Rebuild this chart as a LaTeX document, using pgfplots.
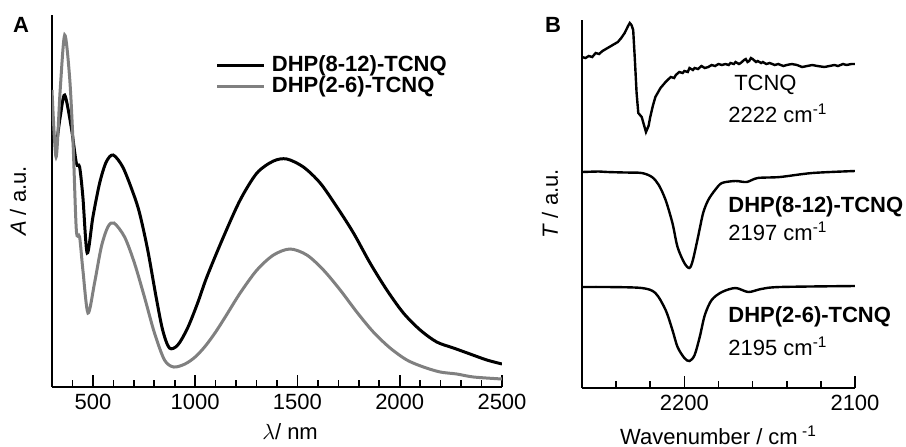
\documentclass[border=0pt]{standalone}
\usepackage{fontspec}
\setmainfont{Liberation Sans}
\usepackage{pgfplots}
\pgfplotsset{compat=1.18}
\definecolor{specgray}{RGB}{128,128,128}

\begin{document}
\begin{tikzpicture}[font=\fontsize{11}{13}\selectfont]
\path[use as bounding box] (0,0) rectangle (453pt,-223pt);

\pgfplotsset{
  every axis/.append style={
    scale only axis,
    axis lines=left,
    axis line style={-, line width=0.9pt},
    tick align=inside,
    major tick length=6pt,
    minor tick length=3.5pt,
    every tick/.style={line width=0.8pt, black},
    ytick=\empty,
    /pgf/number format/assume math mode=true,
    /pgf/number format/1000 sep={},
    clip mode=individual,
    tick label style={font=\fontsize{11}{13}\selectfont},
    label style={font=\fontsize{11}{13}\selectfont},
  }
}

% panel labels
\node[font=\bfseries\fontsize{11}{13}\selectfont] at (10.5pt,-12.5pt) {A};
\node[font=\bfseries\fontsize{11}{13}\selectfont] at (276.5pt,-12.5pt) {B};

% ---------------- A: absorption spectra ----------------
\begin{axis}[
  at={(26pt,-193.5pt)}, anchor=south west,
  width=225pt, height=186pt,
  xmin=300, xmax=2500, ymin=0, ymax=372,
  xtick={500,1000,1500,2000,2500},
  minor xtick={400,600,700,800,900,1100,1200,1300,1400,1600,1700,1800,1900,2100,2200,2300,2400},
  xlabel={$\lambda$/ nm},
  ylabel={\textit{A} / a.u.},
  xlabel style={at={(axis description cs:0.529,0)}, anchor=center, yshift=-22.5pt},
  ylabel style={at={(axis description cs:-0.0756,0.5)}, anchor=center},
  legend style={at={(axis description cs:0.35,0.905)}, anchor=north west,
    draw=none, fill=none, font=\bfseries\fontsize{11}{13}\selectfont,
    row sep=0pt, column sep=2.5pt, nodes={inner sep=0.5pt}},
  legend cell align=left,
  legend image code/.code={\draw[#1] (0pt,0pt) -- (23.5pt,0pt);},
]
\addplot[black, line width=1.5pt, smooth] coordinates {
  (300,260) (320,244) (340,270) (362,292) (394,260) (419,224) (435,220)
  (451,190) (472,134) (500,170) (533,204) (565,225) (599,232) (646,220)
  (695,195) (728,174) (768,137) (809,90) (841,57) (874,39) (915,42)
  (963,59) (1012,84) (1057,110) (1138,150) (1220,187) (1302,214)
  (1383,226) (1448,228) (1529,220) (1611,204) (1693,180) (1774,154)
  (1855,124) (1937,97) (2018,74) (2100,57) (2181,45) (2263,39)
  (2344,33) (2426,27) (2500,23)
};
\addlegendentry{DHP(8-12)-TCNQ}
\addplot[specgray, line width=1.5pt, smooth] coordinates {
  (300,297) (320,230) (340,297) (362,352) (386,310) (403,244) (419,157)
  (435,150) (451,117) (476,74) (508,104) (541,140) (573,160) (603,164)
  (655,150) (703,124) (752,90) (801,54) (850,27) (895,20) (950,23)
  (1000,30) (1050,41) (1100,55) (1150,71) (1220,94) (1302,117) (1383,132)
  (1464,138) (1546,132) (1627,117) (1709,97) (1790,75) (1871,55)
  (1953,39) (2035,27) (2116,20) (2198,15) (2279,13) (2361,10) (2500,8)
};
\addlegendentry{DHP(2-6)-TCNQ}
\end{axis}

% ---------------- B: IR spectra ----------------
\begin{axis}[
  at={(291pt,-194pt)}, anchor=south west,
  width=136.5pt, height=184pt,
  x dir=reverse,
  xmin=2100, xmax=2260, ymin=0, ymax=368,
  xtick={2200,2100},
  minor xtick={2240,2220,2180,2160,2140,2120},
  xlabel={Wavenumber / cm\textsuperscript{ -1}},
  ylabel={\textit{T} / a.u.},
  xlabel style={at={(axis description cs:0.5,0)}, anchor=center, yshift=-23.5pt},
  ylabel style={at={(axis description cs:-0.117,0.5)}, anchor=center},
]
% TCNQ
\addplot[black, line width=1.2pt] coordinates {
  (2260,331) (2258,330) (2256,332) (2254,331) (2252,335) (2250,334) (2248,337)
  (2245,340) (2242,343) (2239,346) (2237,350) (2235,355) (2233,362)
  (2232,365) (2231,363) (2230,358) (2229,328) (2228,295) (2227,275)
  (2225,271) (2223.5,262) (2222.5,256) (2221,262) (2220,271) (2218.5,282)
  (2217,291) (2214,300) (2211,306) (2208,311) (2206,310) (2205,313) (2203,316)
  (2201,315) (2200,317) (2198,316) (2197,320) (2195,318) (2194,320) (2192,319)
  (2190,322) (2188,320) (2186,321) (2184,323) (2182,322) (2180,324) (2178,323)
  (2176,324) (2174,323) (2173,325) (2171,324) (2170,326) (2168,324) (2167,325)
  (2165,328) (2164,329) (2163,326) (2162,327) (2161,330) (2160,329) (2158,326)
  (2157,327) (2155,325) (2154,326) (2152,324) (2150,325) (2147,323) (2145,324)
  (2142,322) (2140,323) (2137,324) (2134,323) (2131,321) (2128,322) (2125,323)
  (2122,322) (2118,321) (2115,322) (2112,323) (2110,322) (2107,324) (2105,323)
  (2102,324) (2100,324)
};
% DHP(8-12)-TCNQ
\addplot[black, line width=1.2pt, smooth] coordinates {
  (2260,216) (2250,216.5) (2245,216) (2235,215.5) (2225,215) (2219,211)
  (2215,203) (2211,188) (2207,165) (2204,141) (2200,125) (2197,120)
  (2195,128) (2192,151) (2189,175) (2186,188) (2182,198) (2178,205)
  (2170,207) (2163.5,206) (2157,210) (2144,211) (2125,215) (2100,217)
};
% DHP(2-6)-TCNQ
\addplot[black, line width=1.2pt, smooth] coordinates {
  (2260,101) (2245,101) (2225,100) (2217,95) (2211,78) (2207,58)
  (2204,41) (2200,30) (2197,27) (2194,33) (2191,51) (2188,73)
  (2184,88) (2178,96) (2170,100) (2162.5,96) (2155,99) (2144,101)
  (2100,102)
};
\node[anchor=west, inner sep=0pt] at (axis cs:2171,303) {TCNQ};
\node[anchor=west, inner sep=0pt] at (axis cs:2174.4,275) {2222 cm\textsuperscript{-1}};
\node[anchor=west, inner sep=0pt, font=\bfseries\fontsize{11}{13}\selectfont] at (axis cs:2174.4,181) {DHP(8-12)-TCNQ};
\node[anchor=west, inner sep=0pt] at (axis cs:2174.4,157) {2197 cm\textsuperscript{-1}};
\node[anchor=west, inner sep=0pt, font=\bfseries\fontsize{11}{13}\selectfont] at (axis cs:2174.4,71) {DHP(2-6)-TCNQ};
\node[anchor=west, inner sep=0pt] at (axis cs:2174.4,42) {2195 cm\textsuperscript{-1}};
\end{axis}
\end{tikzpicture}
\end{document}
